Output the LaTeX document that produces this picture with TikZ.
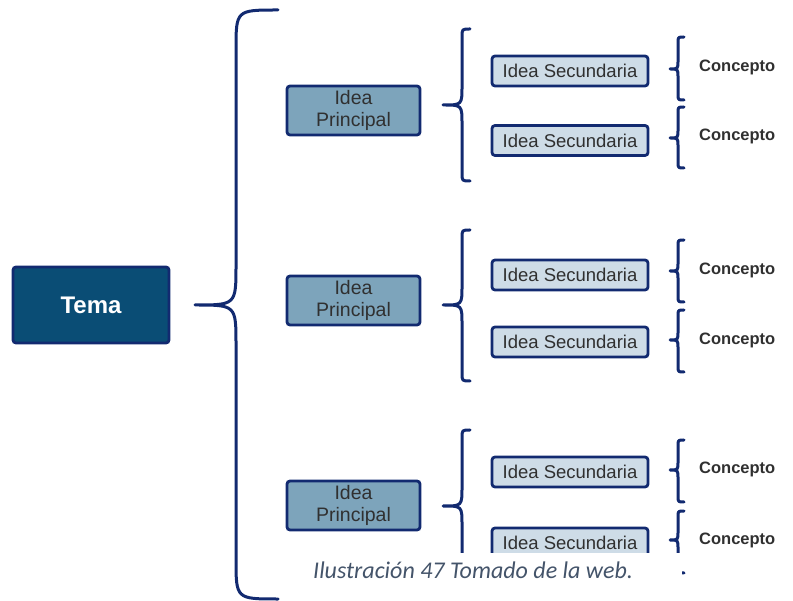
\documentclass[tikz,border=0pt]{standalone}
\usepackage{fontspec}
\setmainfont{Liberation Sans}
\newfontfamily\leyendafont{Carlito}
\usepackage{tikz}
\usetikzlibrary{positioning}
\definecolor{navy}{RGB}{18,42,112}
\definecolor{temafill}{RGB}{10,77,117}
\definecolor{ppalfill}{RGB}{125,164,187}
\definecolor{secfill}{RGB}{206,220,231}
\definecolor{textgrey}{RGB}{48,48,48}
\definecolor{leyenda}{RGB}{68,84,106}
\tikzset{
  llavestyle/.style={draw=navy, line width=3pt, line cap=round, line join=round},
  box/.style={
    draw=navy,
    line width=2.8pt,
    rounded corners=3pt,
    align=center,
    inner sep=0pt
  },
  temabox/.style={box, fill=temafill, text=white, minimum width=156pt, minimum height=76pt,
    font=\fontsize{24}{28}\selectfont\bfseries},
  ppalbox/.style={box, fill=ppalfill, text=textgrey, minimum width=133pt, minimum height=49pt,
    font=\fontsize{19.5}{22}\selectfont},
  secbox/.style={box, fill=secfill, text=textgrey, minimum width=156pt, minimum height=30pt,
    font=\fontsize{18.5}{20}\selectfont},
  concepto/.style={anchor=west, inner sep=0pt, text=textgrey, font=\fontsize{16.5}{18}\selectfont\bfseries}
}
% brace: x vertical, x tip, x ends, y top, y tip, y bottom, end radius, tip radius
\newcommand{\llave}[8]{%
  \draw[llavestyle] (#3,#4) .. controls (#1,#4) .. (#1,{#4+#7})
    -- (#1,{#5-#8}) .. controls (#1,#5) .. (#2,#5)
    .. controls (#1,#5) .. (#1,{#5+#8})
    -- (#1,{#6-#7}) .. controls (#1,#6) .. (#3,#6);}
\begin{document}
\begin{tikzpicture}[x=1pt, y=-1pt]
  \useasboundingbox (0,0) rectangle (793,601);

  \node[temabox] (tema) at (91,305) {Tema};
  \llave{236}{195}{278}{10}{305}{599}{40}{40}

  % idea principal 1
  \node[ppalbox] (ppal1) at (353.5,110.5) {Idea\\Principal};
  \llave{462}{443}{470}{29}{105}{181}{8}{19}
  \node[secbox] (sec11) at (570,71) {Idea Secundaria};
  \node[secbox] (sec12) at (570,140.5) {Idea Secundaria};
  \llave{678}{670}{684}{37}{69}{100}{6}{8}
  \llave{678}{670}{684}{107}{138}{168}{6}{8}
  \node[concepto] (con11) at (699,67) {Concepto};
  \node[concepto] (con12) at (699,136) {Concepto};

  % idea principal 2
  \node[ppalbox] (ppal2) at (353.5,300.5) {Idea\\Principal};
  \llave{462}{443}{470}{230}{305}{381}{8}{19}
  \node[secbox] (sec21) at (570,275) {Idea Secundaria};
  \node[secbox] (sec22) at (570,342) {Idea Secundaria};
  \llave{678}{670}{684}{240}{271}{302}{6}{8}
  \llave{678}{670}{684}{310}{340}{372}{6}{8}
  \node[concepto] (con21) at (699,270) {Concepto};
  \node[concepto] (con22) at (699,340) {Concepto};

  % idea principal 3
  \node[ppalbox] (ppal3) at (353.5,505.5) {Idea\\Principal};
  \llave{462}{443}{470}{430}{506}{582}{8}{19}
  \node[secbox] (sec31) at (570,472) {Idea Secundaria};
  \node[secbox] (sec32) at (570,543) {Idea Secundaria};
  \llave{678}{670}{684}{440}{470}{502}{6}{8}
  \llave{678}{670}{684}{511}{540}{573}{6}{8}
  \node[concepto] (con31) at (699,469) {Concepto};
  \node[concepto] (con32) at (699,540) {Concepto};

  % caption over the cut-off part
  \fill[white] (280,553) rectangle (682,601);
  \node[anchor=base west, inner sep=0pt, text=leyenda,
    font=\leyendafont\itshape\fontsize{24}{26}\selectfont] (cap) at (313,578)
    {Ilustración 47 Tomado de la web.};
\end{tikzpicture}
\end{document}
